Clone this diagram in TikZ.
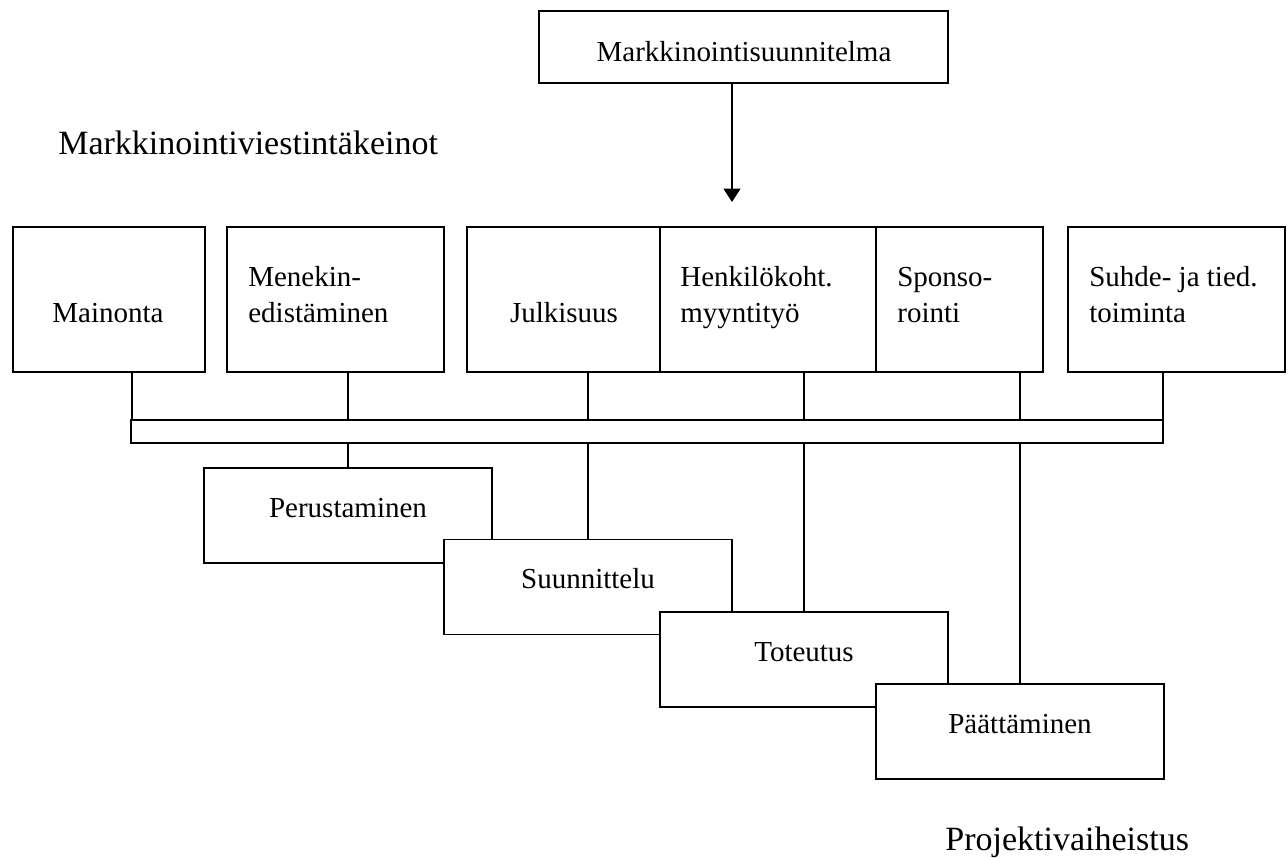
\documentclass[tikz,border=0pt]{standalone}
\usepackage{fontspec}
\setmainfont{Liberation Serif}
\usetikzlibrary{arrows.meta}
\tikzset{
  box/.style={draw, fill=white, line width=1pt, inner sep=0pt, outer sep=0pt, rectangle},
  rowbox/.style={box, minimum height=2.90cm},
  phase/.style={box, minimum width=5.76cm, minimum height=1.90cm},
  txt/.style={inner sep=0pt, font=\fontsize{16.5}{19.9}\selectfont},
  big/.style={inner sep=0pt, font=\fontsize{19.35}{23}\selectfont},
  conn/.style={line width=1pt},
  arr/.style={line width=1pt, -{Triangle[width=0.34cm, length=0.27cm]}}
}
\begin{document}
\begin{tikzpicture}[x=0.02cm, y=-0.02cm]
\useasboundingbox (0,0) rectangle (1288,858);

% top box and arrow
\node[box, minimum width=8.18cm, minimum height=1.44cm] (plan) at (743.5,47) {};
\node[txt, anchor=base] (planT) at (744,62) {Markkinointisuunnitelma};
\coordinate (arrowend) at (732,202);
\draw[arr] (plan.south -| arrowend) -- (arrowend);

% titles
\node[big, anchor=base west] (keinot) at (58,155) {Markkinointiviestintäkeinot};
\node[big, anchor=base west] (vaiheet) at (945,850) {Projektivaiheistus};

% bar
\node[box, minimum width=20.64cm, minimum height=0.46cm] (bar) at (647,431.5) {};

% row of boxes
\node[rowbox, minimum width=3.84cm] (mai) at (109,299.5) {};
\node[rowbox, minimum width=4.34cm] (men) at (335.5,299.5) {};
\node[rowbox, minimum width=3.86cm] (jul) at (563.5,299.5) {};
\node[rowbox, minimum width=4.32cm] (hen) at (768,299.5) {};
\node[rowbox, minimum width=3.34cm] (spo) at (959.5,299.5) {};
\node[rowbox, minimum width=4.34cm] (suh) at (1176.5,299.5) {};

\node[txt, anchor=base] (maiT) at (108,322) {Mainonta};
\node[txt, anchor=base west] (menT1) at (248,287) {Menekin-};
\node[txt, anchor=base west] (menT2) at (248,322) {edistäminen};
\node[txt, anchor=base] (julT) at (564,322) {Julkisuus};
\node[txt, anchor=base west] (henT1) at (680,287) {Henkilökoht.};
\node[txt, anchor=base west] (henT2) at (680,322) {myyntityö};
\node[txt, anchor=base west] (spoT1) at (897,287) {Sponso-};
\node[txt, anchor=base west] (spoT2) at (897,322) {rointi};
\node[txt, anchor=base west] (suhT1) at (1089,287) {Suhde- ja tied.};
\node[txt, anchor=base west] (suhT2) at (1089,322) {toiminta};

% connectors from boxes to bar
\draw[conn] (132,0 |- mai.south) -- (132,0 |- bar.north);
\draw[conn] (348,0 |- men.south) -- (348,0 |- bar.north);
\draw[conn] (588,0 |- jul.south) -- (588,0 |- bar.north);
\draw[conn] (804,0 |- hen.south) -- (804,0 |- bar.north);
\draw[conn] (1020,0 |- spo.south) -- (1020,0 |- bar.north);
\draw[conn] (1163,0 |- suh.south) -- (1163,0 |- bar.north);

% phase boxes
\node[phase] (per) at (348,515.5) {};
\node[phase] (suu) at (588,587) {};
\node[phase] (tot) at (804,659.5) {};
\node[phase] (paa) at (1020,731.5) {};

\node[txt, anchor=base] (perT) at (348,517) {Perustaminen};
\node[txt, anchor=base] (suuT) at (588,588) {Suunnittelu};
\node[txt, anchor=base] (totT) at (804,661) {Toteutus};
\node[txt, anchor=base] (paaT) at (1020,733) {Päättäminen};

% connectors from bar to phases
\draw[conn] (bar.south -| per.north) -- (per.north);
\draw[conn] (bar.south -| suu.north) -- (suu.north);
\draw[conn] (bar.south -| tot.north) -- (tot.north);
\draw[conn] (bar.south -| paa.north) -- (paa.north);
\end{tikzpicture}
\end{document}
